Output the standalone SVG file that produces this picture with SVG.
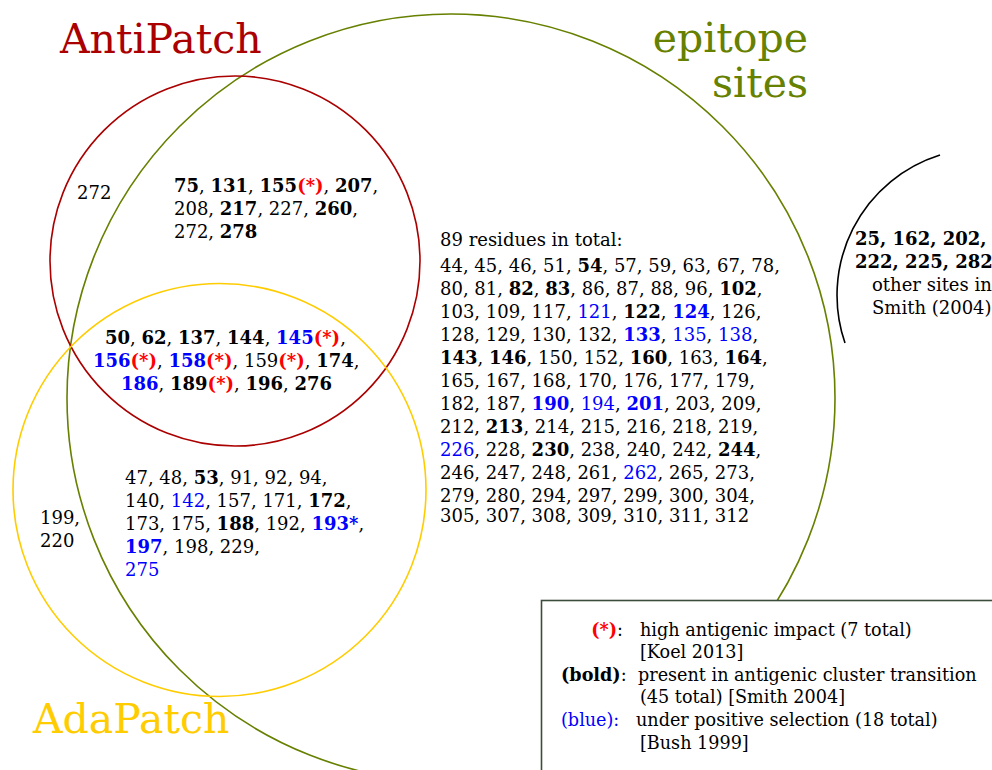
<svg xmlns="http://www.w3.org/2000/svg" width="992" height="770" viewBox="0 0 992 770">
<style>
text{font-family:"DejaVu Serif","Liberation Serif",serif;font-size:18px;fill:#000}
.t{font-size:41px}
.lg{font-size:17.6px}
.b{font-weight:bold}
.bl{fill:#0000ff}
.r{fill:#ff0000;font-weight:bold}
circle,path{fill:none;stroke-width:1.6}
</style>
<rect width="992" height="770" fill="#fff"/>
<g id="epitope">
<circle cx="451" cy="398" r="384" stroke="#668000"/>
<text class="t" x="808" y="52" text-anchor="end" style="fill:#668000">epitope</text>
<text class="t" x="808" y="97" text-anchor="end" style="fill:#668000">sites</text>
</g>
<g id="antipatch">
<circle cx="235" cy="261" r="185" stroke="#aa0000"/>
<text class="t" x="60" y="53" style="fill:#aa0000">AntiPatch</text>
</g>
<g id="adapatch">
<circle cx="219.5" cy="490" r="206.5" stroke="#ffcc00"/>
<text class="t" x="33" y="733" style="fill:#ffcc00">AdaPatch</text>
</g>
<g id="smith">
<path d="M940,155 A147,147 0 0 0 845,343" stroke="#000"/>
<text x="855" y="245" class="b">25, 162, 202,</text>
<text x="855" y="268" class="b">222, 225, 282</text>
<text x="872" y="291">other sites in</text>
<text x="872" y="314">Smith (2004)</text>
</g>
<g id="antipatch-only">
<text x="77" y="199">272</text>
<text x="174" y="192"><tspan class="b">75</tspan>, <tspan class="b">131</tspan>, <tspan class="b">155</tspan><tspan class="r">(*)</tspan>, <tspan class="b">207</tspan>,</text>
<text x="174" y="215">208, <tspan class="b">217</tspan>, 227, <tspan class="b">260</tspan>,</text>
<text x="174" y="238">272, <tspan class="b">278</tspan></text>
</g>
<g id="all-three">
<text x="105" y="344"><tspan class="b">50</tspan>, <tspan class="b">62</tspan>, <tspan class="b">137</tspan>, <tspan class="b">144</tspan>, <tspan class="b bl">145</tspan><tspan class="r">(*)</tspan>,</text>
<text x="93" y="367"><tspan class="b bl">156</tspan><tspan class="r">(*)</tspan>, <tspan class="b bl">158</tspan><tspan class="r">(*)</tspan>, 159<tspan class="r">(*)</tspan>, <tspan class="b">174</tspan>,</text>
<text x="121" y="390"><tspan class="b bl">186</tspan>, <tspan class="b">189</tspan><tspan class="r">(*)</tspan>, <tspan class="b">196</tspan>, <tspan class="b">276</tspan></text>
</g>
<g id="adapatch-only">
<text x="40" y="524">199,</text>
<text x="40" y="547">220</text>
</g>
<g id="adapatch-epitope">
<text x="125" y="484">47, 48, <tspan class="b">53</tspan>, 91, 92, 94,</text>
<text x="125" y="507">140, <tspan class="bl">142</tspan>, 157, 171, <tspan class="b">172</tspan>,</text>
<text x="125" y="530">173, 175, <tspan class="b">188</tspan>, 192, <tspan class="b bl">193*</tspan>,</text>
<text x="125" y="553"><tspan class="b bl">197</tspan>, 198, 229,</text>
<text x="125" y="576" class="bl">275</text>
</g>
<g id="epitope-only">
<text x="440" y="246">89 residues in total:</text>
<text x="440" y="272">44, 45, 46, 51, <tspan class="b">54</tspan>, 57, 59, 63, 67, 78,</text>
<text x="440" y="295">80, 81, <tspan class="b">82</tspan>, <tspan class="b">83</tspan>, 86, 87, 88, 96, <tspan class="b">102</tspan>,</text>
<text x="440" y="318">103, 109, 117, <tspan class="bl">121</tspan>, <tspan class="b">122</tspan>, <tspan class="b bl">124</tspan>, 126,</text>
<text x="440" y="341">128, 129, 130, 132, <tspan class="b bl">133</tspan>, <tspan class="bl">135</tspan>, <tspan class="bl">138</tspan>,</text>
<text x="440" y="364"><tspan class="b">143</tspan>, <tspan class="b">146</tspan>, 150, 152, <tspan class="b">160</tspan>, 163, <tspan class="b">164</tspan>,</text>
<text x="440" y="387">165, 167, 168, 170, 176, 177, 179,</text>
<text x="440" y="410">182, 187, <tspan class="b bl">190</tspan>, <tspan class="bl">194</tspan>, <tspan class="b bl">201</tspan>, 203, 209,</text>
<text x="440" y="433">212, <tspan class="b">213</tspan>, 214, 215, 216, 218, 219,</text>
<text x="440" y="456"><tspan class="bl">226</tspan>, 228, <tspan class="b">230</tspan>, 238, 240, 242, <tspan class="b">244</tspan>,</text>
<text x="440" y="479">246, 247, 248, 261, <tspan class="bl">262</tspan>, 265, 273,</text>
<text x="440" y="502">279, 280, 294, 297, 299, 300, 304,</text>
<text x="440" y="522">305, 307, 308, 309, 310, 311, 312</text>
</g>
<g id="legend">
<rect x="541.5" y="600.5" width="460" height="180" fill="#fff" stroke="#3d4d3d" stroke-width="1.6"/>
<text class="lg" x="623" y="636" text-anchor="end"><tspan class="r">(*)</tspan>:</text>
<text class="lg" x="640" y="636">high antigenic impact (7 total)</text>
<text class="lg" x="640" y="658">[Koel 2013]</text>
<text class="lg" x="561" y="681"><tspan class="b">(bold)</tspan>:</text>
<text class="lg" x="638" y="681">present in antigenic cluster transition</text>
<text class="lg" x="640" y="703">(45 total) [Smith 2004]</text>
<text class="lg bl" x="561" y="726">(blue):</text>
<text class="lg" x="636" y="726">under positive selection (18 total)</text>
<text class="lg" x="640" y="749">[Bush 1999]</text>
</g>
<g id="connectors"/>
</svg>
